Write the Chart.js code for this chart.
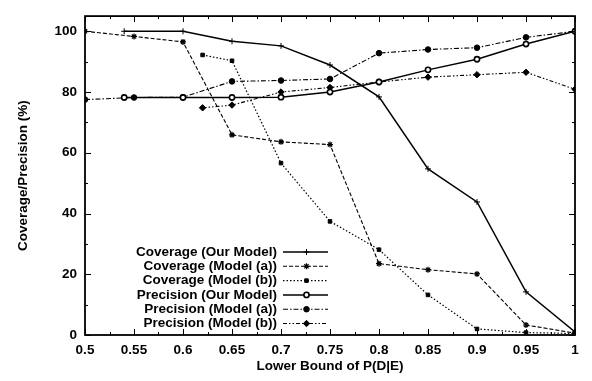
<!DOCTYPE html>
<html><head><meta charset="utf-8">
<style>html,body{margin:0;padding:0;background:#fff}#wrap{position:relative;width:592px;height:381px}</style>
<script src="https://cdn.jsdelivr.net/npm/chart.js@4/dist/chart.umd.min.js"></script>
</head><body><div id="wrap"><canvas id="c" width="592" height="381"></canvas></div>
<script>
// ---- data ----
const xOur = [0.54, 0.6, 0.65, 0.7, 0.75, 0.8, 0.85, 0.9, 0.95, 1.0];
const xA   = [0.5, 0.55, 0.6, 0.65, 0.7, 0.75, 0.8, 0.85, 0.9, 0.95, 1.0];
const xB   = [0.62, 0.65, 0.7, 0.75, 0.8, 0.85, 0.9, 0.95, 1.0];
const coverageOur  = [100, 100, 96.7, 95.2, 88.9, 78.4, 54.7, 43.8, 14.2, 1.0];
const coverageA    = [100, 98.3, 96.5, 65.9, 63.6, 62.7, 23.5, 21.5, 20.1, 3.3, 0.6];
const coverageB    = [92.2, 90.3, 56.6, 37.4, 28.1, 13.2, 2.0, 0.8, 0.5];
const precisionOur = [78.2, 78.2, 78.2, 78.3, 80.0, 83.3, 87.3, 90.8, 95.8, 100];
const precisionA   = [77.5, 78.2, 78.3, 83.5, 83.8, 84.3, 92.8, 94.0, 94.6, 98.0, 100];
const precisionB   = [74.8, 75.7, 80.0, 81.5, 83.3, 84.9, 85.7, 86.5, 80.9];
const xTicks = [0.5, 0.55, 0.6, 0.65, 0.7, 0.75, 0.8, 0.85, 0.9, 0.95, 1];
const yTicks = [0, 20, 40, 60, 80, 100];
const seriesLabels = ["Coverage (Our Model)", "Coverage (Model (a))", "Coverage (Model (b))",
                      "Precision (Our Model)", "Precision (Model (a))", "Precision (Model (b))"];

const pts = (xs, ys) => xs.map((x, i) => ({x: x, y: ys[i]}));
const FONT = "'Liberation Sans', Arial, Helvetica, sans-serif";
const INK = '#000';
const FSIZE = 13.5;

const styles = [
  {borderDash: [], borderWidth: 1.5, pointStyle: 'cross', pointRadius: 3, pointBorderWidth: 1, pointBackgroundColor: INK},
  {borderDash: [4, 2], borderWidth: 1.1, pointStyle: 'star', pointRadius: 3, pointBorderWidth: 1.2, pointBackgroundColor: INK},
  {borderDash: [1.5, 2], borderWidth: 1.2, pointStyle: 'rect', pointRadius: 2.5, pointBorderWidth: 1, pointBackgroundColor: INK},
  {borderDash: [], borderWidth: 1.5, pointStyle: 'circle', pointRadius: 2.6, pointBorderWidth: 1.6, pointBackgroundColor: '#fff'},
  {borderDash: [5, 2, 1.5, 2], borderWidth: 1.1, pointStyle: 'circle', pointRadius: 2.8, pointBorderWidth: 1, pointBackgroundColor: INK},
  {borderDash: [4, 2, 1.5, 2, 1.5, 2], borderWidth: 1.1, pointStyle: 'rectRot', pointRadius: 3.2, pointBorderWidth: 1, pointBackgroundColor: INK}
];
const seriesData = [pts(xOur, coverageOur), pts(xA, coverageA), pts(xB, coverageB),
                    pts(xOur, precisionOur), pts(xA, precisionA), pts(xB, precisionB)];

const datasets = seriesData.map((d, i) => Object.assign({
  label: seriesLabels[i], data: d, borderColor: INK, pointBorderColor: INK,
  tension: 0, fill: false
}, styles[i]));

const frameTicks = {
  id: 'frameTicks',
  afterDatasetsDraw(chart) {
    const {ctx, chartArea: {left, right, top, bottom}, scales: {x, y}} = chart;
    ctx.save();
    ctx.strokeStyle = INK;
    ctx.lineWidth = 1;
    const seg = (x1, y1, x2, y2) => { ctx.beginPath(); ctx.moveTo(x1, y1); ctx.lineTo(x2, y2); ctx.stroke(); };
    xTicks.forEach((v, i) => {
      const p = Math.round(x.getPixelForValue(v)) + 0.5;
      seg(p, bottom, p, bottom - 6); seg(p, top, p, top + 6);
      if (i < xTicks.length - 1) {
        const m = Math.round(x.getPixelForValue((v + xTicks[i + 1]) / 2)) + 0.5;
        seg(m, bottom, m, bottom - 3); seg(m, top, m, top + 3);
      }
    });
    yTicks.forEach((v, i) => {
      const p = Math.round(y.getPixelForValue(v)) + 0.5;
      seg(left, p, left + 6, p); seg(right, p, right - 6, p);
      if (i < yTicks.length - 1) {
        const m = Math.round(y.getPixelForValue((v + yTicks[i + 1]) / 2)) + 0.5;
        seg(left, m, left + 3, m); seg(right, m, right - 3, m);
      }
    });
    ctx.lineWidth = 1.8;
    ctx.strokeRect(left, top, right - left, bottom - top);

    // legend (gnuplot style: right-aligned text, sample line to the right)
    const textRight = 277, lx1 = 283, lx2 = 328, y0 = 252, dy = 14.3;
    ctx.font = 'bold ' + FSIZE + 'px ' + FONT;
    ctx.fillStyle = INK;
    ctx.textAlign = 'right';
    ctx.textBaseline = 'middle';
    datasets.forEach((ds, i) => {
      const yy = y0 + i * dy;
      ctx.fillStyle = INK;
      ctx.fillText(ds.label, textRight, yy);
      ctx.save();
      ctx.lineWidth = ds.borderWidth;
      ctx.setLineDash(ds.borderDash);
      ctx.beginPath(); ctx.moveTo(lx1, yy); ctx.lineTo(lx2, yy); ctx.stroke();
      ctx.restore();
      ctx.save();
      ctx.fillStyle = ds.pointBackgroundColor; ctx.strokeStyle = INK; ctx.lineWidth = ds.pointBorderWidth;
      Chart.helpers.drawPoint(ctx, {
        pointStyle: ds.pointStyle, radius: ds.pointRadius, rotation: 0, borderWidth: ds.pointBorderWidth
      }, (lx1 + lx2) / 2 + 1, yy);
      ctx.restore();
    });
    ctx.restore();
  }
};

new Chart(document.getElementById('c'), {
  type: 'line',
  data: {datasets: datasets},
  options: {
    responsive: false, animation: false, devicePixelRatio: 1,
    layout: {padding: {top: 6, right: 17, left: 0, bottom: 0}},
    plugins: {legend: {display: false}, tooltip: {enabled: false}},
    scales: {
      x: {
        type: 'linear', min: 0.5, max: 1,
        afterBuildTicks: s => { s.ticks = xTicks.map(v => ({value: v})); },
        afterFit: s => { s.height = 46; },
        grid: {display: false, drawTicks: false},
        border: {display: false},
        ticks: {color: INK, font: {family: FONT, size: FSIZE, weight: 'bold'}, padding: 7, maxRotation: 0,
                callback: v => String(v)},
        title: {display: true, text: 'Lower Bound of P(D|E)', color: INK,
                font: {family: FONT, size: FSIZE, weight: 'bold'}, padding: {top: 0, bottom: 7}}
      },
      y: {
        type: 'linear', min: 0, max: 105,
        afterBuildTicks: s => { s.ticks = yTicks.map(v => ({value: v})); },
        afterFit: s => { s.width = 85; },
        grid: {display: false, drawTicks: false},
        border: {display: false},
        ticks: {color: INK, font: {family: FONT, size: FSIZE, weight: 'bold'}, padding: 8,
                callback: v => String(v)},
        title: {display: true, text: 'Coverage/Precision (%)', color: INK,
                font: {family: FONT, size: FSIZE, weight: 'bold'}, padding: {top: 15, bottom: 0}}
      }
    }
  },
  plugins: [frameTicks]
});
</script>
</body></html>
